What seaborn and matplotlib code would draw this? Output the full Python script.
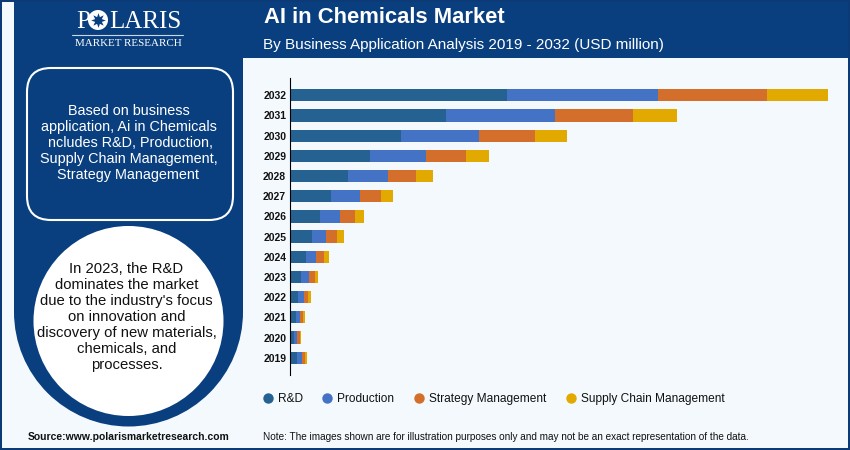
import numpy as np
import pandas as pd
import seaborn as sns
import matplotlib
matplotlib.use('Agg')
import matplotlib.pyplot as plt
from matplotlib.lines import Line2D
from matplotlib.patches import Rectangle, FancyBboxPatch, Circle, Wedge

years = ['2032', '2031', '2030', '2029', '2028', '2027', '2026', '2025', '2024', '2023', '2022', '2021', '2020', '2019']
rnd = [216.7, 155.7, 110.7, 79.7, 57.4, 40.7, 29.7, 21.4, 15.4, 10.7, 7.7, 5.7, 3.7, 6.7]
production = [151, 109, 78, 55.7, 40, 29, 20, 14.6, 10.3, 8, 6, 4, 3.3, 5]
strategy = [109, 78, 56, 40.3, 28.3, 21, 15, 10.7, 8, 5.7, 4, 3, 2.7, 3]
supply = [61, 44, 32, 23, 17, 11.7, 9, 6.7, 5, 3.6, 2.7, 2, 1.3, 2.3]

series_names = ['R&D', 'Production', 'Strategy Management', 'Supply Chain Management']
series_colors = ['#256291', '#4472c4', '#d46f2b', '#e2aa00']

box_text = 'Based on business\napplication, Ai in Chemicals\n ncludes R&D, Production,\nSupply Chain Management,\nStrategy Management'
circle_text = "In 2023, the R&D\ndominates the market\ndue to the industry's focus\non innovation and\ndiscovery of new materials,\nchemicals, and\nprocesses."

NAVY = '#0a3f7f'
PALE = '#f4f9fd'

sns.set_theme(style='white')
plt.rcParams['font.family'] = ['Liberation Sans', 'DejaVu Sans']

fig = plt.figure(figsize=(8.5, 4.5), dpi=100, facecolor=PALE)

# backdrop in pixel coordinates
bg = fig.add_axes([0, 0, 1, 1])
bg.set_xlim(0, 850)
bg.set_ylim(450, 0)
bg.axis('off')
bg.add_patch(Rectangle((14, 0), 836, 58, color=NAVY, lw=0))
bg.add_patch(Rectangle((14, 0), 229, 312, color=NAVY, lw=0))
bg.add_patch(Wedge((128.5, 312), 114.5, 0, 180, color=NAVY, lw=0))
bg.add_patch(Circle((128.5, 321), 95, color='white', lw=0))
bg.add_patch(FancyBboxPatch((27, 68), 206, 152, boxstyle='round,pad=0,rounding_size=24',
                            fc=NAVY, ec='white', lw=1.5))
# outer frame
for r in [(0, 0, 850, 2), (0, 448, 850, 2), (0, 0, 2, 450), (848, 0, 2, 450)]:
    bg.add_patch(Rectangle(r[:2], r[2], r[3], color='#0b3a76', lw=0))

# logo
bg.text(76, 22, 'P', color='white', family='Liberation Serif', fontsize=18, va='center', ha='left')
bg.add_patch(Circle((98, 20), 10, color='white', lw=0))
bg.plot([98], [20], marker=(8, 1, 0), ms=10.5, color=NAVY, mew=0)
bg.text(109.5, 22, 'LARIS', color='white', family='Liberation Serif', fontsize=18, va='center', ha='left')
bg.plot([72, 183], [35, 35], color='#c8d6e6', lw=0.8)
bg.text(128, 43.5, 'MARKET RESEARCH', color='white', family='Liberation Serif', fontsize=7.9,
        va='center', ha='center')

# header
bg.text(264, 17.5, 'AI in Chemicals Market', color='white', fontsize=15.8, fontweight='bold', va='center')
bg.text(263, 45, 'By Business Application Analysis 2019 - 2032 (USD million)', color='white',
        fontsize=10.98, va='center')

bg.text(128.5, 143, box_text, color='white', fontsize=10.4, ha='center', va='center', linespacing=1.2)
bg.text(126.5, 317, circle_text, color='#111111', fontsize=10.7, ha='center', va='center', linespacing=1.17)

bg.text(28, 437.5, 'Source:www.polarismarketresearch.com', color='#111111', fontsize=7.5,
        fontweight='bold', va='center')
bg.text(263, 437.5, 'Note: The images shown are for illustration purposes only and may not be an exact representation of the data.',
        color='#111111', fontsize=7.22, va='center')

# chart: cumulative totals painted longest first to get the stack
df = pd.DataFrame({'year': years, 'R&D': rnd, 'Production': production,
                   'Strategy Management': strategy, 'Supply Chain Management': supply})
cum = df[series_names].cumsum(axis=1)
cum['year'] = df['year']

ax_left, ax_right = 290.4, 840
ax_top, ax_bottom = 78, 375
ax = fig.add_axes([ax_left / 850, 1 - ax_bottom / 450, (ax_right - ax_left) / 850, (ax_bottom - ax_top) / 450])
ax.patch.set_alpha(0)
for name, col in reversed(list(zip(series_names, series_colors))):
    sns.barplot(data=cum, y='year', x=name, order=years, orient='y', color=col,
                saturation=1, width=0.61, linewidth=0, ax=ax)

spacing = (357.7 - 95.3) / 13
ax.set_ylim((ax_bottom - 357.7) / spacing + 13, (ax_top - 95.3) / spacing)
ax.set_xlim(0, ax_right - ax_left)
ax.set_xlabel('')
ax.set_ylabel('')
ax.set_xticks([])
ax.tick_params(axis='y', length=0, pad=3, labelsize=7.5, labelcolor='#111111')
for t in ax.get_yticklabels():
    t.set_fontweight('bold')
sns.despine(ax=ax, left=False, top=True, right=True, bottom=True)
ax.spines['left'].set_color('black')
ax.spines['left'].set_linewidth(0.8)

handles = [Line2D([], [], ls='', marker='o', ms=7.5, color=c, mew=0) for c in series_colors]
leg = fig.legend(handles, series_names, ncol=4, loc='center left', frameon=False,
                 bbox_to_anchor=(262 / 850, 1 - 399 / 450), fontsize=8.6, labelcolor='#111111',
                 handletextpad=0.33, columnspacing=1.55, handlelength=1.0,
                 borderaxespad=0, borderpad=0)

fig.savefig('out.png', dpi=100, facecolor=fig.get_facecolor())
